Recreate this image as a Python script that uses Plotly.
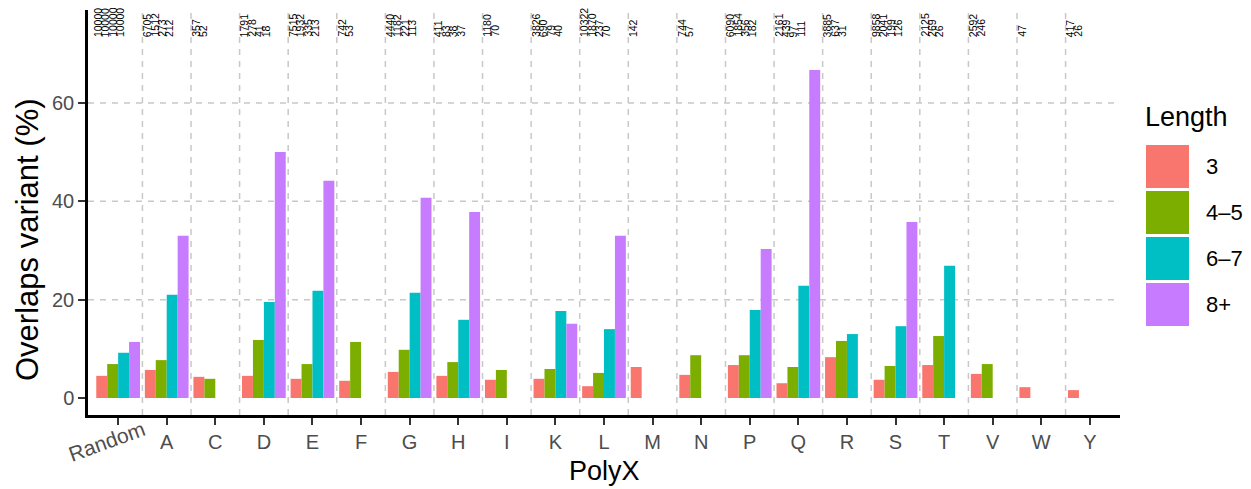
import plotly.graph_objects as go

categories = ["Random", "A", "C", "D", "E", "F", "G", "H", "I", "K", "L", "M",
              "N", "P", "Q", "R", "S", "T", "V", "W", "Y"]
length_groups = ["3", "4\u20135", "6\u20137", "8+"]
colors = ["#F8766D", "#7CAE00", "#00BFC4", "#C77CFF"]

pct_3 = [4.5, 5.7, 4.3, 4.5, 3.9, 3.5, 5.3, 4.5, 3.7, 3.9, 2.4, 6.3, 4.7, 6.7, 3.0, 8.3, 3.7, 6.7, 4.9, 2.2, 1.6]
pct_45 = [6.9, 7.7, 3.9, 11.8, 6.9, 11.4, 9.8, 7.3, 5.7, 5.9, 5.1, None, 8.7, 8.7, 6.3, 11.6, 6.5, 12.6, 6.9, None, 0]
pct_67 = [9.2, 21.0, None, 19.5, 21.8, None, 21.4, 15.9, None, 17.7, 14.0, None, None, 17.9, 22.8, 13.0, 14.6, 26.9, None, None, None]
pct_8 = [11.4, 33.0, None, 50.0, 44.2, None, 40.7, 37.8, None, 15.1, 33.0, None, None, 30.3, 66.7, None, 35.8, None, None, None, None]

counts = [
    [10000, 10000, 10000, 10000],
    [6705, 1512, 273, 212],
    [357, 52],
    [1791, 278, 41, 18],
    [7515, 1932, 335, 213],
    [742, 53],
    [4440, 1182, 221, 113],
    [411, 83, 38, 37],
    [1180, 70],
    [3826, 690, 79, 40],
    [10322, 1870, 237, 70],
    [142],
    [744, 57],
    [6090, 1854, 356, 182],
    [2161, 439, 97, 111],
    [3885, 637, 31],
    [9858, 2041, 199, 126],
    [2125, 269, 26],
    [2592, 246],
    [47],
    [417, 26],
]

y_ticks = [0, 20, 40, 60]
FONT = "Liberation Sans, Arial, sans-serif"

# window size and the page's default body margin
W, H, OFF = 1251, 489, 8
# plot-area geometry (window pixels)
L, R, T, B = 88, 1120, 10, 415


def px(x):
    return (x - L) / (R - L)


def py(y):
    return (B - y) / (B - T)


xpos = list(range(len(categories)))
fig = go.Figure()
for name, vals, col in zip(length_groups, [pct_3, pct_45, pct_67, pct_8], colors):
    fig.add_trace(go.Bar(x=xpos, y=vals, name=name, marker=dict(color=col, line=dict(width=0)),
                         showlegend=False))

shapes = []
for i in range(len(categories) - 1):
    shapes.append(dict(type="line", xref="x", yref="paper", x0=i + 0.5, x1=i + 0.5, y0=0, y1=1,
                       line=dict(color="#C8C8C8", width=1.5, dash="6px,6px"), layer="below"))
for v in y_ticks[1:]:
    shapes.append(dict(type="line", xref="paper", yref="y", x0=0, x1=1, y0=v, y1=v,
                       line=dict(color="#C8C8C8", width=1.5, dash="6px,6px"), layer="below"))

annotations = []
for i, cnts in enumerate(counts):
    for j, c in enumerate(cnts):
        annotations.append(dict(x=i, y=py(38), xref="x", yref="paper", text=str(c), showarrow=False,
                                textangle=-90, xanchor="center", yanchor="bottom",
                                xshift=-19.5 + 7.3 * j, font=dict(family=FONT, size=10.5, color="black"),
                                borderpad=0))
annotations.append(dict(x=0, y=py(441), xref="x", yref="paper", text="Random", showarrow=False,
                        textangle=-20, xanchor="center", yanchor="middle", xshift=-12,
                        font=dict(family=FONT, size=21, color="#4D4D4D")))
annotations.append(dict(x=0.5, y=py(471), xref="paper", yref="paper", text="PolyX", showarrow=False,
                        xanchor="center", yanchor="middle", font=dict(family=FONT, size=27, color="black")))
annotations.append(dict(x=px(27), y=py(240), xref="paper", yref="paper", text="Overlaps variant (%)",
                        showarrow=False, textangle=-90, xanchor="center", yanchor="middle",
                        font=dict(family=FONT, size=31, color="black")))

annotations.append(dict(x=px(1143), y=py(117), xref="paper", yref="paper", text="Length", showarrow=False,
                        xanchor="left", yanchor="middle", font=dict(family=FONT, size=27, color="black")))
key_tops = [145, 191, 237, 283]
for name, col, top in zip(length_groups, colors, key_tops):
    shapes.append(dict(type="rect", xref="paper", yref="paper", x0=px(1146), x1=px(1189),
                       y0=py(top + 43), y1=py(top), fillcolor=col, line=dict(width=0)))
    annotations.append(dict(x=px(1204), y=py(top + 21.5), xref="paper", yref="paper", text=name,
                            showarrow=False, xanchor="left", yanchor="middle",
                            font=dict(family=FONT, size=22, color="black")))

fig.update_layout(
    width=W - OFF, height=H - OFF,
    margin=dict(l=L - OFF, r=W - R, t=T - OFF, b=H - B),
    plot_bgcolor="white", paper_bgcolor="white",
    barmode="group", bargap=0.1, bargroupgap=0,
    font=dict(family=FONT),
    shapes=shapes, annotations=annotations,
    showlegend=False,
    xaxis=dict(range=[-0.62, 20.62], tickvals=xpos, ticktext=[""] + categories[1:], tickangle=0,
               showgrid=False, zeroline=False, showline=True, linecolor="black", linewidth=2.5,
               ticks="outside", ticklen=7, tickwidth=2, tickcolor="#333333",
               tickfont=dict(family=FONT, size=20, color="#4D4D4D")),
    yaxis=dict(range=[-3.46, 78.9], tickvals=y_ticks, showgrid=False, zeroline=False,
               showline=True, linecolor="black", linewidth=2.5,
               ticks="outside", ticklen=7, tickwidth=2, tickcolor="#333333",
               tickfont=dict(family=FONT, size=20, color="#4D4D4D")),
)

fig.write_html("out.html")
